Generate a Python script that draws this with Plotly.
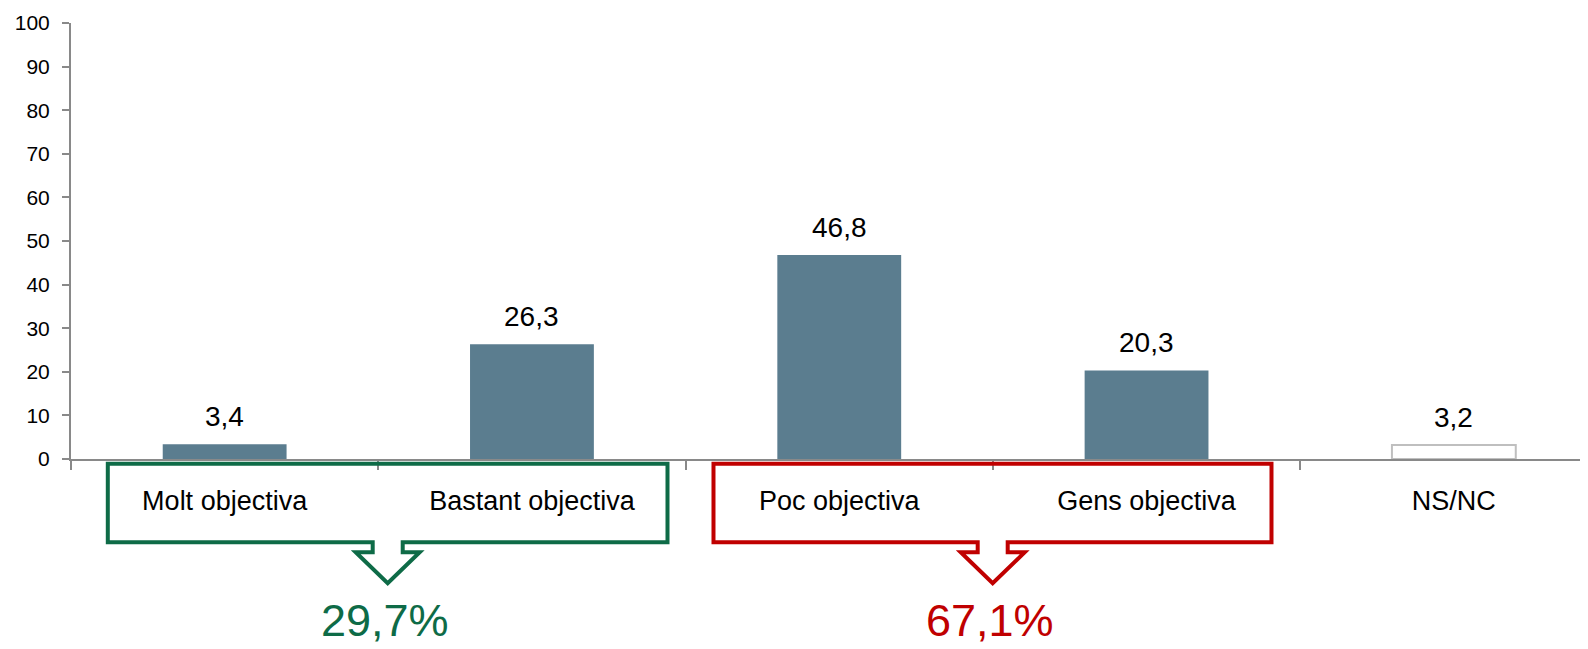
import plotly.graph_objects as go

categories = ["Molt objectiva", "Bastant objectiva", "Poc objectiva", "Gens objectiva", "NS/NC"]
values = [3.4, 26.3, 46.8, 20.3, 3.2]
bar_colors = ["#5B7D8F", "#5B7D8F", "#5B7D8F", "#5B7D8F", "#FFFFFF"]
line_colors = ["#5B7D8F", "#5B7D8F", "#5B7D8F", "#5B7D8F", "#BFBFBF"]
line_widths = [0, 0, 0, 0, 2]
y_ticks = list(range(0, 101, 10))
group_labels = ["29,7%", "67,1%"]
group_colors = ["#0E6B47", "#C00000"]

# The page body has an 8px margin, so design in screen pixels and shift.
OFF = 8
W, H = 1588 - OFF, 649 - OFF
L, R, T, B = 71 - OFF, 1588 - OFF, 23 - OFF, 459 - OFF  # plot area in figure pixels
PW, PH = R - L, B - T
CAT_W = 307.3
FONT = "Liberation Sans, Arial, sans-serif"


def px(x):
    """screen x -> paper"""
    return (x - OFF - L) / PW


def py(y):
    """screen y -> paper"""
    return (B - (y - OFF)) / PH


fig = go.Figure()
fig.add_trace(go.Bar(
    x=categories, y=values,
    marker=dict(color=bar_colors, line=dict(color=line_colors, width=line_widths)),
    hoverinfo="skip",
))

annotations = []
for c, v in zip(categories, values):
    annotations.append(dict(
        x=c, y=v, xref="x", yref="y", text=f"{v:.1f}".replace(".", ","),
        showarrow=False, yanchor="bottom", yshift=10,
        font=dict(family=FONT, size=28, color="#000000"),
    ))

# callout boxes (group brackets), in screen pixels
boxes = [(107.8, 667.5, 387.7), (713.5, 1271.5, 992.7)]
shapes = []
top, bot = 463.7, 542.3
for (x0, x1, cx), col, lab in zip(boxes, group_colors, group_labels):
    pts = [(x0, top), (x1, top), (x1, bot), (cx + 15, bot), (cx + 15, bot + 10),
           (cx + 32, bot + 10), (cx, bot + 41), (cx - 32, bot + 10), (cx - 15, bot + 10),
           (cx - 15, bot), (x0, bot)]
    path = "M " + " L ".join(f"{px(a):.5f},{py(b):.5f}" for a, b in pts) + " Z"
    shapes.append(dict(type="path", xref="paper", yref="paper", path=path,
                       line=dict(color=col, width=4), fillcolor="rgba(0,0,0,0)", layer="above"))
    annotations.append(dict(
        x=px(cx - 3), y=py(620), xref="paper", yref="paper", text=lab, showarrow=False,
        xanchor="center", yanchor="middle",
        font=dict(family=FONT, size=45, color=col),
    ))

fig.update_layout(
    width=W, height=H,
    margin=dict(l=L, r=W - R, t=T, b=H - B, pad=0, autoexpand=False),
    paper_bgcolor="white", plot_bgcolor="white",
    showlegend=False, bargap=0.597,
    font=dict(family=FONT, color="#000000"),
    shapes=shapes, annotations=annotations,
    xaxis=dict(
        type="category", range=[-0.5, -0.5 + PW / CAT_W],
        tickson="boundaries", ticks="outside", ticklen=9, tickwidth=2, tickcolor="#898989",
        showline=True, linecolor="#898989", linewidth=2, showgrid=False, zeroline=False,
        tickfont=dict(family=FONT, size=27, color="#000000"), ticklabelstandoff=17,
        fixedrange=True, automargin=False,
    ),
    yaxis=dict(
        range=[0, 100], tickvals=y_ticks, ticks="outside", ticklen=7, tickwidth=2,
        tickcolor="#898989", showline=True, linecolor="#898989", linewidth=2,
        showgrid=False, zeroline=False,
        tickfont=dict(family=FONT, size=21, color="#000000"), ticklabelstandoff=8,
        fixedrange=True, automargin=False,
    ),
)

fig.write_html("out.html", config={"displayModeBar": False})
